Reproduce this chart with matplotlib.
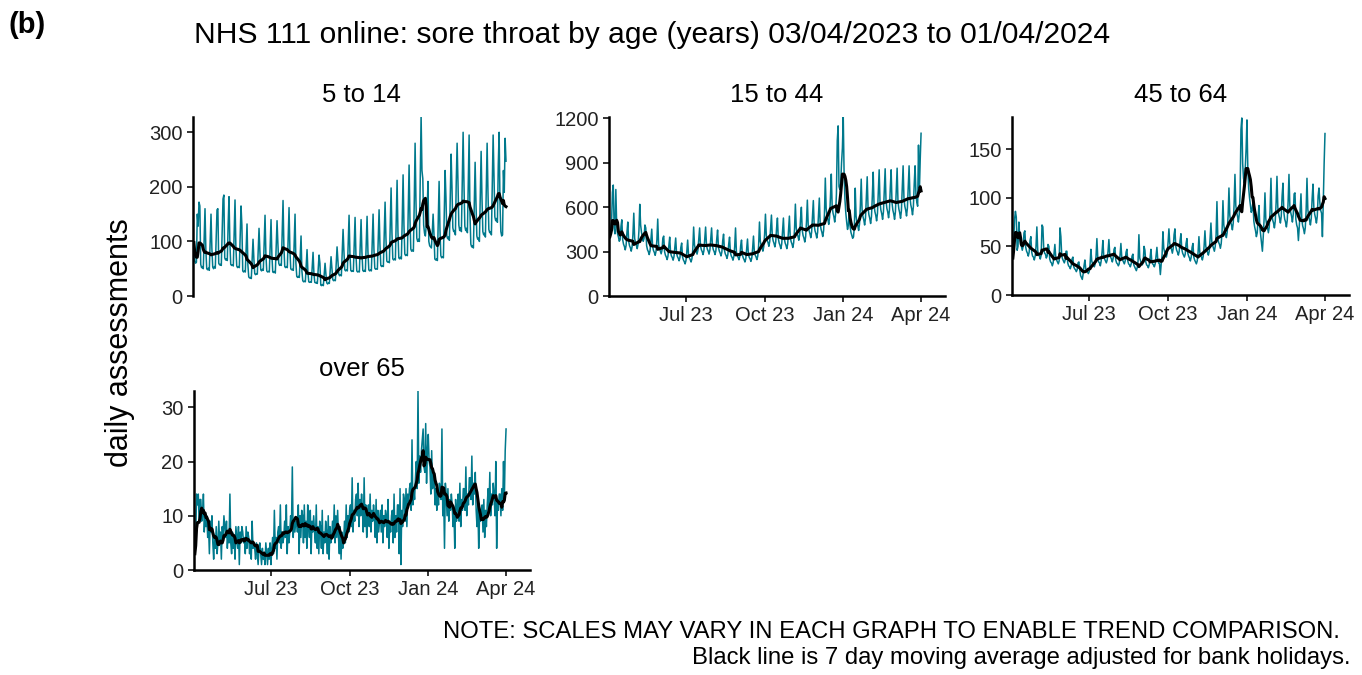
import numpy as np
import pandas as pd
import matplotlib
matplotlib.use("Agg")
import matplotlib.pyplot as plt
import matplotlib.dates as mdates

plt.rcParams['font.family'] = ['Liberation Sans', 'DejaVu Sans']

# daily counts, 03/04/2023 (Mon) to 01/04/2024 (Mon), one row per week
dates = pd.date_range("2023-04-03", "2024-04-01", freq="D")
bank_holidays = pd.to_datetime(["2023-04-07", "2023-04-10", "2023-05-01", "2023-05-08",
                                "2023-05-29", "2023-08-28", "2023-12-25", "2023-12-26",
                                "2024-01-01", "2024-03-29", "2024-04-01"])

age_5_14 = [
    98, 64, 60, 62, 150, 128, 172,
    165, 58, 52, 54, 50, 104, 160,
    84, 50, 48, 51, 47, 98, 150,
    88, 53, 50, 54, 51, 104, 158,
    160, 60, 57, 58, 56, 118, 178,
    185, 70, 66, 68, 65, 132, 182,
    97, 58, 56, 57, 55, 114, 176,
    90, 55, 52, 54, 52, 106, 165,
    130, 46, 44, 46, 44, 90, 132,
    57, 35, 33, 34, 32, 68, 104,
    68, 41, 39, 41, 40, 80, 124,
    82, 48, 46, 49, 47, 96, 148,
    77, 46, 44, 45, 44, 90, 140,
    75, 44, 43, 45, 42, 88, 138,
    96, 60, 56, 58, 56, 118, 175,
    90, 54, 52, 54, 52, 106, 162,
    84, 50, 48, 49, 47, 98, 150,
    60, 36, 34, 36, 34, 72, 110,
    46, 28, 26, 27, 26, 55, 85,
    44, 26, 25, 26, 25, 52, 80,
    42, 25, 24, 25, 23, 50, 75,
    60, 20, 19, 21, 19, 40, 60,
    40, 24, 22, 24, 23, 47, 72,
    50, 30, 28, 29, 28, 58, 90,
    66, 40, 37, 39, 37, 78, 122,
    82, 48, 46, 48, 46, 96, 148,
    78, 47, 45, 46, 45, 94, 144,
    76, 46, 44, 45, 44, 92, 140,
    80, 47, 45, 47, 45, 94, 146,
    82, 48, 46, 48, 46, 96, 150,
    86, 51, 49, 50, 49, 102, 158,
    95, 56, 54, 55, 54, 112, 172,
    106, 64, 62, 63, 61, 128, 198,
    116, 68, 66, 68, 66, 136, 212,
    118, 70, 68, 71, 68, 140, 222,
    130, 77, 74, 76, 74, 154, 240,
    142, 86, 82, 84, 82, 170, 280,
    175, 106, 100, 104, 100, 210, 330,
    230, 215, 130, 115, 110, 130, 150,
    210, 100, 92, 90, 88, 115, 150,
    114, 68, 66, 68, 65, 135, 210,
    122, 74, 70, 72, 70, 146, 230,
    180, 110, 105, 108, 102, 185, 260,
    200, 125, 118, 120, 112, 210, 280,
    210, 130, 120, 125, 118, 215, 300,
    205, 128, 120, 124, 116, 210, 295,
    150, 95, 90, 92, 88, 165, 245,
    170, 110, 104, 106, 100, 180, 265,
    180, 118, 112, 115, 108, 195, 280,
    190, 122, 116, 118, 112, 205, 295,
    215, 145, 138, 142, 135, 240, 300,
    170, 118, 110, 112, 230, 190, 289,
    247,
]

age_15_44 = [
    400, 440, 500, 700, 750, 460, 420,
    720, 480, 420, 400, 370, 380, 470,
    515, 380, 350, 335, 312, 342, 430,
    500, 370, 340, 326, 303, 333, 418,
    560, 390, 360, 343, 320, 351, 440,
    620, 480, 430, 400, 370, 390, 480,
    460, 340, 313, 300, 280, 306, 384,
    452, 335, 308, 295, 275, 302, 378,
    520, 350, 318, 305, 285, 310, 392,
    405, 300, 276, 264, 246, 270, 340,
    398, 295, 271, 260, 242, 266, 333,
    392, 290, 267, 255, 238, 261, 328,
    358, 265, 244, 233, 217, 239, 300,
    378, 280, 258, 246, 230, 252, 316,
    466, 345, 317, 304, 283, 310, 390,
    460, 340, 313, 300, 280, 306, 384,
    466, 345, 317, 304, 283, 310, 390,
    460, 340, 313, 300, 280, 306, 384,
    446, 330, 304, 290, 271, 297, 373,
    418, 310, 285, 273, 254, 279, 350,
    398, 295, 271, 260, 242, 266, 333,
    460, 300, 275, 262, 245, 268, 340,
    378, 280, 258, 246, 230, 252, 316,
    385, 285, 262, 251, 234, 257, 322,
    405, 300, 276, 264, 246, 270, 340,
    500, 370, 340, 326, 303, 333, 418,
    553, 410, 377, 361, 336, 369, 463,
    547, 405, 373, 356, 332, 365, 458,
    527, 390, 359, 343, 320, 351, 441,
    527, 390, 359, 343, 320, 351, 441,
    540, 400, 368, 352, 328, 360, 452,
    621, 460, 423, 405, 377, 414, 520,
    600, 445, 409, 392, 365, 400, 503,
    648, 480, 442, 422, 394, 432, 542,
    645, 478, 440, 421, 392, 430, 540,
    662, 490, 451, 431, 402, 441, 554,
    797, 590, 543, 519, 484, 531, 667,
    824, 610, 561, 537, 500, 549, 689,
    1050, 1150, 740, 720, 760, 900, 1000,
    1210, 820, 650, 560, 500, 450, 480,
    590, 470, 430, 410, 390, 400, 470,
    729, 540, 497, 475, 443, 486, 610,
    790, 585, 538, 515, 480, 527, 661,
    806, 597, 549, 525, 490, 537, 675,
    837, 620, 570, 546, 508, 558, 700,
    853, 632, 581, 556, 518, 569, 714,
    860, 645, 593, 568, 529, 580, 729,
    853, 632, 581, 556, 518, 569, 714,
    864, 640, 589, 563, 525, 576, 723,
    880, 660, 607, 581, 541, 594, 746,
    880, 670, 616, 590, 549, 603, 757,
    880, 690, 635, 607, 1020, 700, 920,
    1100,
]

age_45_64 = [
    38, 55, 78, 86, 80, 46, 50,
    75, 60, 52, 50, 46, 50, 64,
    66, 49, 45, 43, 40, 44, 56,
    60, 44, 40, 39, 36, 40, 50,
    70, 46, 41, 40, 37, 41, 72,
    70, 48, 43, 42, 38, 40, 52,
    50, 37, 34, 33, 30, 33, 42,
    52, 39, 36, 34, 32, 35, 69,
    60, 40, 37, 35, 33, 36, 45,
    45, 33, 30, 29, 27, 30, 37,
    39, 29, 27, 26, 24, 26, 33,
    34, 26, 20, 18, 16, 22, 30,
    36, 27, 25, 24, 22, 24, 31,
    47, 35, 32, 31, 29, 32, 40,
    58, 39, 34, 33, 30, 35, 44,
    56, 40, 37, 35, 33, 36, 45,
    57, 42, 39, 37, 34, 38, 47,
    49, 36, 33, 32, 30, 32, 41,
    53, 39, 36, 34, 32, 35, 44,
    47, 35, 32, 31, 29, 32, 40,
    42, 31, 29, 27, 25, 28, 35,
    62, 38, 35, 33, 31, 34, 50,
    46, 34, 31, 30, 28, 31, 38,
    47, 35, 32, 31, 29, 32, 40,
    49, 36, 33, 32, 21, 32, 41,
    65, 48, 44, 42, 39, 43, 54,
    68, 53, 49, 47, 43, 48, 62,
    68, 50, 46, 44, 41, 45, 56,
    63, 47, 43, 41, 39, 42, 53,
    58, 43, 40, 38, 35, 39, 49,
    53, 39, 36, 34, 32, 35, 44,
    60, 44, 40, 39, 36, 40, 50,
    66, 50, 46, 44, 41, 45, 58,
    74, 55, 51, 48, 45, 50, 62,
    96, 59, 54, 52, 48, 53, 66,
    97, 72, 66, 63, 59, 65, 81,
    110, 82, 75, 72, 67, 74, 93,
    124, 92, 85, 81, 75, 83, 104,
    170, 182, 135, 120, 115, 130, 150,
    180, 130, 110, 100, 92, 85, 88,
    96, 76, 70, 66, 60, 64, 80,
    92, 70, 62, 55, 45, 60, 78,
    105, 78, 72, 69, 64, 70, 88,
    120, 84, 77, 74, 69, 76, 95,
    122, 90, 83, 79, 74, 81, 102,
    115, 85, 78, 75, 70, 77, 96,
    124, 92, 85, 81, 75, 83, 104,
    105, 78, 72, 69, 56, 70, 88,
    104, 77, 71, 68, 63, 69, 87,
    120, 88, 81, 77, 72, 79, 99,
    114, 90, 83, 79, 74, 81, 102,
    110, 95, 87, 84, 60, 95, 135,
    166,
]

age_over_65 = [
    3, 6, 14, 12, 14, 9, 13,
    13, 9, 10, 14, 7, 10, 8,
    10, 6, 8, 3, 9, 7, 10,
    5, 2, 6, 4, 8, 3, 5,
    9, 5, 7, 2, 8, 6, 10,
    8, 6, 9, 4, 7, 5, 14,
    5, 3, 7, 4, 6, 2, 8,
    6, 4, 8, 1, 7, 5, 8,
    7, 5, 6, 3, 8, 4, 7,
    6, 3, 5, 2, 9, 4, 5,
    4, 2, 5, 3, 1, 4, 5,
    3, 1, 4, 2, 3, 1, 5,
    3, 1, 4, 2, 5, 1, 4,
    6, 3, 11, 4, 6, 2, 7,
    8, 5, 12, 4, 7, 5, 6,
    9, 6, 12, 3, 8, 5, 7,
    10, 8, 19, 6, 9, 7, 9,
    9, 7, 12, 3, 10, 6, 11,
    10, 5, 12, 6, 9, 4, 12,
    8, 6, 11, 3, 9, 7, 10,
    7, 5, 12, 4, 8, 3, 9,
    8, 4, 11, 3, 7, 5, 9,
    7, 3, 10, 2, 8, 5, 6,
    9, 6, 12, 5, 10, 6, 11,
    6, 3, 8, 2, 7, 4, 5,
    9, 5, 12, 6, 10, 7, 11,
    12, 8, 17, 7, 11, 9, 13,
    14, 10, 16, 8, 13, 10, 14,
    11, 7, 17, 8, 12, 6, 10,
    12, 8, 14, 7, 11, 9, 12,
    10, 6, 13, 5, 11, 7, 9,
    11, 7, 12, 5, 10, 8, 11,
    10, 6, 13, 4, 9, 7, 10,
    11, 5, 14, 6, 10, 7, 12,
    12, 3, 15, 1, 11, 8, 14,
    13, 9, 15, 8, 14, 12, 15,
    16, 11, 24, 12, 15, 13, 17,
    20, 15, 33, 16, 21, 18, 22,
    24, 26, 19, 18, 27, 16, 22,
    25, 20, 19, 14, 22, 15, 18,
    16, 12, 15, 11, 14, 12, 16,
    15, 13, 26, 10, 14, 4, 16,
    14, 10, 15, 9, 13, 11, 14,
    12, 8, 11, 4, 13, 9, 11,
    14, 9, 16, 8, 13, 11, 15,
    15, 11, 19, 10, 14, 12, 17,
    17, 13, 21, 12, 16, 14, 18,
    11, 8, 12, 4, 10, 9, 11,
    12, 7, 13, 6, 11, 8, 12,
    15, 11, 18, 10, 14, 12, 16,
    14, 10, 20, 4, 13, 11, 14,
    14, 10, 15, 11, 20, 13, 22,
    26,
]

panel_titles = ["5 to 14", "15 to 44", "45 to 64", "over 65"]
panel_data = [age_5_14, age_15_44, age_45_64, age_over_65]
panel_yticks = [[0, 100, 200, 300], [0, 300, 600, 900, 1200], [0, 50, 100, 150], [0, 10, 20, 30]]
panel_ylim = [328, 1210, 183, 33]
show_xaxis = [False, True, True, True]

x_ticks = pd.to_datetime(["2023-07-01", "2023-10-01", "2024-01-01", "2024-04-01"])
x_ticklabels = ["Jul 23", "Oct 23", "Jan 24", "Apr 24"]

W, H = 1362, 675
fig = plt.figure(figsize=(W / 100, H / 100), dpi=100)

# axes boxes in pixels: left, top, right, bottom
boxes = [(193, 117, 530, 296), (609, 117, 945, 296), (1012, 117, 1349, 295), (194, 391, 530, 570)]

teal = "#00798C"
for i in range(4):
    l, t, r, b = boxes[i]
    ax = fig.add_axes([l / W, 1 - b / H, (r - l) / W, (b - t) / H])
    s = pd.Series(panel_data[i], index=dates, dtype=float)
    # 7 day moving average, bank holidays left out
    adj = s.mask(s.index.isin(bank_holidays))
    ma = adj.rolling(7, min_periods=1).mean()
    ax.plot(s.index, s.values, color=teal, lw=1.1)
    ax.plot(ma.index, ma.values, color="black", lw=2.2)

    ax.set_xlim(pd.Timestamp("2023-04-02"), pd.Timestamp("2024-04-29"))
    ax.set_ylim(0, panel_ylim[i])
    ax.set_yticks(panel_yticks[i])
    ax.set_title(panel_titles[i], fontsize=18.5, pad=11)

    for side in ["top", "right"]:
        ax.spines[side].set_visible(False)
    ax.spines["left"].set_linewidth(1.8)
    ax.spines["bottom"].set_linewidth(1.8)
    ax.tick_params(axis="both", length=4, width=1.4, labelsize=14.5, color="#333333", labelcolor="#222222")
    if show_xaxis[i]:
        ax.set_xticks(x_ticks)
        ax.set_xticklabels(x_ticklabels)
    else:
        ax.spines["bottom"].set_visible(False)
        ax.set_xticks([])

fig.text(652 / W, 1 - 35 / H, "NHS 111 online: sore throat by age (years) 03/04/2023 to 01/04/2024",
         ha="center", va="center", fontsize=21.6)
fig.text(8 / W, 1 - 25 / H, "(b)", ha="left", va="center", fontsize=21, fontweight="bold")
fig.text(120 / W, 1 - 343 / H, "daily assessments", rotation=90, ha="center", va="center", fontsize=22)

fig.text(1340 / W, 1 - 632 / H, "NOTE: SCALES MAY VARY IN EACH GRAPH TO ENABLE TREND COMPARISON.",
         ha="right", va="center", fontsize=17.2)
fig.text(1350 / W, 1 - 658 / H, "Black line is 7 day moving average adjusted for bank holidays.",
         ha="right", va="center", fontsize=17.2)

fig.savefig("out.png", dpi=100)
